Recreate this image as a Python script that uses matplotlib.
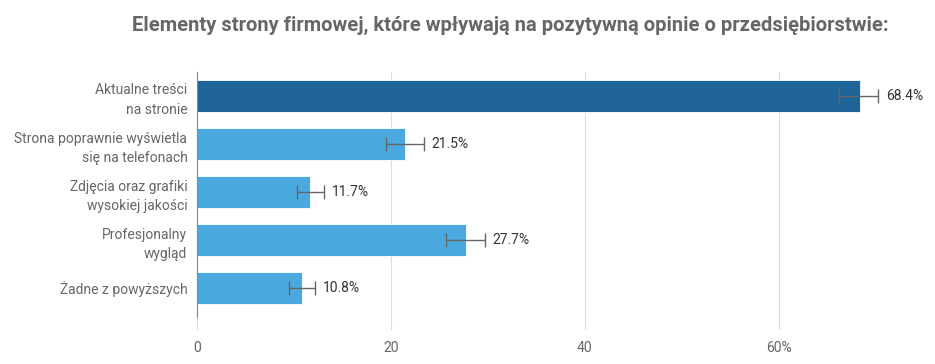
import numpy as np
import matplotlib
matplotlib.use("Agg")
import matplotlib.pyplot as plt

plt.rcParams['font.family'] = ['Roboto', 'DejaVu Sans']

categories = ["Aktualne treści\nna stronie",
              "Strona poprawnie wyświetla\nsię na telefonach",
              "Zdjęcia oraz grafiki\nwysokiej jakości",
              "Profesjonalny\nwygląd",
              "Żadne z powyższych"]
values = [68.4, 21.5, 11.7, 27.7, 10.8]
err_lo = [2.2, 2.0, 1.4, 2.0, 1.3]
err_hi = [1.9, 1.9, 1.4, 2.0, 1.4]
colors = ["#1f6496", "#4aa9de", "#4aa9de", "#4aa9de", "#4aa9de"]
xticks = [0, 20, 40, 60]
xticklabels = ["0", "20", "40", "60%"]

fig = plt.figure(figsize=(9.35, 3.64), dpi=100)
ax = fig.add_axes([197 / 935, 1 - 330 / 364, (924 - 197) / 935, (330 - 72) / 364])

y = np.arange(len(categories))
ax.barh(y, values, height=0.67, color=colors, edgecolor="white", linewidth=0.6, zorder=2)
ax.errorbar(values, y, xerr=[err_lo, err_hi], fmt="none", ecolor="#666666",
            elinewidth=1, capsize=5, capthick=1, zorder=3)
for yi, v, eh in zip(y, values, err_hi):
    ax.text(v + eh + 0.8, yi, f"{v}%", va="center", ha="left", fontsize=10, color="#333333")

ax.set_xlim(0, 75)
ax.set_ylim(4.875, -0.5)
ax.set_yticks(y)
ax.set_yticklabels(categories, fontsize=10, color="#666666", linespacing=1.5)
ax.set_xticks(xticks)
ax.set_xticklabels(xticklabels, fontsize=10, color="#666666")
ax.tick_params(axis="y", length=0, pad=7)
ax.tick_params(axis="x", length=0, pad=8)
ax.grid(axis="x", color="#dddddd", linewidth=0.8, zorder=0)
for s in ["top", "right", "bottom"]:
    ax.spines[s].set_visible(False)
ax.spines["left"].set_color("#888888")
ax.spines["left"].set_linewidth(0.8)
ax.spines["left"].set_bounds(4.6, -0.5)

fig.text(510 / 935, 1 - 25 / 364, "Elementy strony firmowej, które wpływają na pozytywną opinie o przedsiębiorstwie:",
         ha="center", va="center", fontsize=14.5, fontweight="bold", color="#666666")

fig.savefig("out.png", dpi=100)
